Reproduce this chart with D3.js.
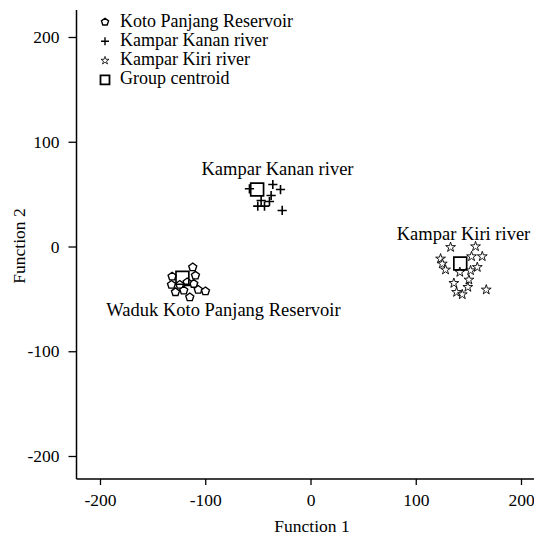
<!DOCTYPE html>
<html>
<head>
<meta charset="utf-8">
<script src="https://cdn.jsdelivr.net/npm/d3@7"></script>
<style>
  body { margin: 0; background: #fff; }
  text { font-family: "Liberation Serif", "Times New Roman", serif; fill: #000; }
</style>
</head>
<body>
<script>
// ticks
var xTicks = [-200, -100, 0, 100, 200];
var yTicks = [-200, -100, 0, 100, 200];

// Waduk Koto Panjang Reservoir
var kotoX = [-111.9, -131.5, -109.3, -132.1, -110.9, -124.2, -128.3, -120.4, -106.7, -99.8, -114.7, -117.2];
var kotoY = [-19.8, -28.6, -27.7, -36.5, -35.6, -36.5, -43.6, -42.0, -41.3, -42.7, -48.4, -34.1];

// Kampar Kanan river
var kananX = [-58.0, -35.8, -28.5, -37.4, -46.9, -39.0, -50.1, -43.7, -26.9];
var kananY = [55.1, 59.2, 54.4, 48.7, 43.9, 42.9, 38.5, 38.5, 34.4];

// Kampar Kiri river
var kiriX = [133.1, 156.8, 123.6, 153.0, 163.2, 125.2, 128.3, 141.9, 152.1, 158.5, 150.5, 136.2, 149.5, 138.8, 144.2, 167.0];
var kiriY = [-0.7, 0.0, -11.7, -9.5, -9.5, -16.5, -22.2, -24.5, -22.9, -19.8, -31.8, -35.0, -38.8, -43.6, -45.8, -41.3];

// group centroids
var centroidX = [-121.7, -50.7, 142.3];
var centroidY = [-29.9, 54.4, -16.2];

var legendLabels = ["Koto Panjang Reservoir", "Kampar Kanan river", "Kampar Kiri river", "Group centroid"];
var groupLabels = ["Waduk Koto Panjang Reservoir", "Kampar Kanan river", "Kampar Kiri river"];

var width = 534, height = 535;

var svg = d3.select("body").append("svg")
    .attr("width", width)
    .attr("height", height);

var x = d3.scaleLinear().domain([-200, 200]).range([100, 521]);
var y = d3.scaleLinear().domain([-200, 200]).range([456, 37]);

//custom symbol shapes
var pentagon = {
  draw: function(ctx, size){
    var r = Math.sqrt(size) * 0.62;
    for (var i = 0; i < 5; i++){
      var a = -Math.PI / 2 + i * 2 * Math.PI / 5;
      if (i == 0) ctx.moveTo(r * Math.cos(a), r * Math.sin(a));
      else ctx.lineTo(r * Math.cos(a), r * Math.sin(a));
    }
    ctx.closePath();
  }
};
var plus = {
  draw: function(ctx, size){
    var r = Math.sqrt(size) / 2;
    ctx.moveTo(-r, 0); ctx.lineTo(r, 0);
    ctx.moveTo(0, -r); ctx.lineTo(0, r);
  }
};
var square = {
  draw: function(ctx, size){
    var r = Math.sqrt(size) / 2;
    ctx.rect(-r, -r, 2 * r, 2 * r);
  }
};

//axes
var xAxis = svg.append("g")
    .attr("transform", "translate(0," + 479 + ")")
    .call(d3.axisBottom(x).tickValues(xTicks).tickSize(6).tickFormat(d3.format("d")));
var yAxis = svg.append("g")
    .attr("transform", "translate(" + 76.5 + ",0)")
    .call(d3.axisLeft(y).tickValues(yTicks).tickSize(8).tickFormat(d3.format("d")));

[xAxis, yAxis].forEach(function(ax){
  ax.select(".domain").remove();
  ax.selectAll("line").attr("stroke", "#000").attr("stroke-width", 1.3);
  ax.selectAll("text").style("font-family", "Liberation Serif, serif").style("font-size", "17.5px");
});
xAxis.selectAll("text").attr("dy", "1.05em").text(function(d){ return d < 0 ? "-" + (-d) : d; });
yAxis.selectAll("text").attr("x", -17).text(function(d){ return d < 0 ? "-" + (-d) : d; });

svg.append("line").attr("x1", 76.5).attr("x2", 534).attr("y1", 479).attr("y2", 479)
    .attr("stroke", "#000").attr("stroke-width", 1.5);
svg.append("line").attr("x1", 76.5).attr("x2", 76.5).attr("y1", 10).attr("y2", 479)
    .attr("stroke", "#000").attr("stroke-width", 1.5);

svg.append("text").attr("x", 312).attr("y", 532).attr("text-anchor", "middle")
    .style("font-size", "17.5px").text("Function 1");
svg.append("text").attr("transform", "translate(25,246) rotate(-90)").attr("text-anchor", "middle")
    .style("font-size", "17.5px").text("Function 2");

//points
function drawGroup(xs, ys, type, size, cls){
  svg.selectAll("." + cls)
    .data(xs.map(function(d, i){ return [d, ys[i]]; }))
    .enter()
    .append("path")
    .attr("class", cls)
    .attr("transform", function(d){ return "translate(" + x(d[0]) + "," + y(d[1]) + ")"; })
    .attr("d", d3.symbol().type(type).size(size))
    .attr("fill", "#fff")
    .attr("stroke", "#000")
    .attr("stroke-width", 1.4);
}
drawGroup(kotoX, kotoY, pentagon, 46, "koto");
drawGroup(kananX, kananY, plus, 85, "kanan");
drawGroup(kiriX, kiriY, d3.symbolStar, 30, "kiri");
drawGroup(centroidX, centroidY, square, 165, "centroid");
svg.selectAll(".kanan").attr("fill", "none").attr("stroke-width", 1.6);
svg.selectAll(".kiri").attr("stroke-width", 0.9);
svg.selectAll(".centroid").attr("fill", "none").attr("stroke-width", 1.7);

//group labels
var labelPos = [[223.5, 315.5], [277.5, 175], [463.5, 240]];
svg.selectAll(".glabel")
  .data(groupLabels)
  .enter()
  .append("text")
  .attr("class", "glabel")
  .attr("x", function(d, i){ return labelPos[i][0]; })
  .attr("y", function(d, i){ return labelPos[i][1]; })
  .attr("text-anchor", "middle")
  .style("font-size", "18.5px")
  .text(function(d){ return d; });

//legend
var legendTypes = [pentagon, plus, d3.symbolStar, square];
var legendSizes = [36, 64, 20, 81];
var legendStroke = [1.4, 1.4, 0.8, 1.8];
var legend = svg.selectAll(".legend")
  .data(legendLabels)
  .enter()
  .append("g")
  .attr("class", "legend")
  .attr("transform", function(d, i){ return "translate(105," + (22 + i * 19.3) + ")"; });
legend.append("path")
  .attr("d", function(d, i){ return d3.symbol().type(legendTypes[i]).size(legendSizes[i])(); })
  .attr("fill", "none")
  .attr("stroke", "#000")
  .attr("stroke-width", function(d, i){ return legendStroke[i]; });
legend.append("text")
  .attr("x", 15)
  .attr("y", 4.5)
  .style("font-size", "18px")
  .text(function(d){ return d; });
</script>
</body>
</html>
